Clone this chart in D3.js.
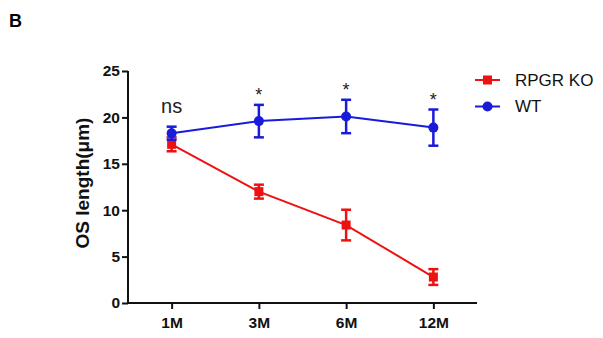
<!DOCTYPE html>
<html>
<head>
<meta charset="utf-8">
<script src="https://cdn.jsdelivr.net/npm/d3@7"></script>
<style>
  body { margin: 0; background: #fff; }
  svg { display: block; font-family: Arial, "Liberation Sans", sans-serif; }
</style>
</head>
<body>
<svg id="chart" width="603" height="338"></svg>
<script>
// data
const timepoints = ['1M', '3M', '6M', '12M'];
const koMean = [17.1, 12.0, 8.4, 2.8];
const koErr = [0.75, 0.75, 1.65, 0.85];
const wtMean = [18.3, 19.6, 20.1, 18.9];
const wtErr = [0.7, 1.75, 1.8, 1.95];
const sigLabels = ['ns', '*', '*', '*'];
const yTicks = [0, 5, 10, 15, 20, 25];

const svg = d3.select('#chart');

const x = d3.scalePoint()
  .domain(timepoints)
  .range([128, 477])
  .padding(0.5);

const y = d3.scaleLinear()
  .domain([0, 25])
  .range([303, 71]);

// panel letter
svg.append('text')
  .attr('x', 9)
  .attr('y', 27)
  .attr('font-size', 18)
  .attr('font-weight', 'bold')
  .text('B');

// axes
const yAxis = svg.append('g')
  .attr('transform', 'translate(128,0)')
  .call(d3.axisLeft(y).tickValues(yTicks).tickSize(6).tickPadding(2));

const xAxis = svg.append('g')
  .attr('transform', 'translate(0,303)')
  .call(d3.axisBottom(x).tickSize(6).tickPadding(8).tickSizeOuter(0));

[yAxis, xAxis].forEach(ax => {
  ax.select('.domain').attr('stroke', '#111').attr('stroke-width', 2);
  ax.selectAll('.tick line').attr('stroke', '#111').attr('stroke-width', 2);
  ax.selectAll('.tick text')
    .attr('font-size', 15.5)
    .attr('font-weight', 'bold')
    .attr('fill', '#111')
    .attr('font-family', 'Arial, "Liberation Sans", sans-serif');
});

// plain axis lines, no outer ticks
yAxis.select('.domain').attr('d', `M0,${y(25)}V${y(0)}`);
xAxis.select('.domain').attr('d', `M128,0H477`);

// y label
svg.append('text')
  .attr('transform', `translate(89,183) rotate(-90)`)
  .attr('text-anchor', 'middle')
  .attr('font-size', 19)
  .attr('font-weight', 'bold')
  .attr('fill', '#111')
  .text('OS length(\u03bcm)');

const series = [
  { name: 'RPGR KO', mean: koMean, err: koErr, color: '#ee1111', shape: 'square' },
  { name: 'WT', mean: wtMean, err: wtErr, color: '#1a1adb', shape: 'circle' }
];

const line = d3.line()
  .x(d => x(d.t))
  .y(d => y(d.v));

series.forEach(s => {
  const pts = timepoints.map((t, i) => ({ t, v: s.mean[i], e: s.err[i] }));
  const g = svg.append('g');

  g.append('path')
    .attr('d', line(pts))
    .attr('fill', 'none')
    .attr('stroke', s.color)
    .attr('stroke-width', 2);

  // error bars
  const eb = g.selectAll('.eb')
    .data(pts)
    .enter().append('g');
  eb.append('line')
    .attr('x1', d => x(d.t)).attr('x2', d => x(d.t))
    .attr('y1', d => y(d.v + d.e)).attr('y2', d => y(d.v - d.e))
    .attr('stroke', s.color).attr('stroke-width', 2.5);
  [1, -1].forEach(sign => {
    eb.append('line')
      .attr('x1', d => x(d.t) - 5).attr('x2', d => x(d.t) + 5)
      .attr('y1', d => y(d.v + sign * d.e)).attr('y2', d => y(d.v + sign * d.e))
      .attr('stroke', s.color).attr('stroke-width', 2.5);
  });

  // markers
  if (s.shape === 'square') {
    g.selectAll('.m')
      .data(pts)
      .enter().append('rect')
      .attr('x', d => x(d.t) - 4.5)
      .attr('y', d => y(d.v) - 4.5)
      .attr('width', 9)
      .attr('height', 9)
      .attr('fill', s.color);
  } else {
    g.selectAll('.m')
      .data(pts)
      .enter().append('circle')
      .attr('cx', d => x(d.t))
      .attr('cy', d => y(d.v))
      .attr('r', 5)
      .attr('fill', s.color);
  }
});

// significance marks above the WT error bars
svg.selectAll('.sig')
  .data(timepoints)
  .enter().append('text')
  .attr('x', d => x(d))
  .attr('y', (d, i) => {
    const top = y(Math.max(wtMean[i] + wtErr[i], koMean[i] + koErr[i]));
    return sigLabels[i] === 'ns' ? top - 14 : top - 4;
  })
  .attr('text-anchor', 'middle')
  .attr('font-size', (d, i) => sigLabels[i] === 'ns' ? 20 : 18)
  .attr('fill', '#222')
  .text((d, i) => sigLabels[i]);

// legend
const legend = svg.append('g');
series.forEach((s, i) => {
  const ly = 80 + i * 26.5;
  legend.append('line')
    .attr('x1', 475).attr('x2', 500)
    .attr('y1', ly).attr('y2', ly)
    .attr('stroke', s.color).attr('stroke-width', 2);
  if (s.shape === 'square') {
    legend.append('rect')
      .attr('x', 483).attr('y', ly - 4.5)
      .attr('width', 9).attr('height', 9)
      .attr('fill', s.color);
  } else {
    legend.append('circle')
      .attr('cx', 487.5).attr('cy', ly)
      .attr('r', 5).attr('fill', s.color);
  }
  legend.append('text')
    .attr('x', 515)
    .attr('y', ly)
    .attr('dy', '0.35em')
    .attr('font-size', 17)
    .attr('fill', '#111')
    .text(s.name);
});
</script>
</body>
</html>
